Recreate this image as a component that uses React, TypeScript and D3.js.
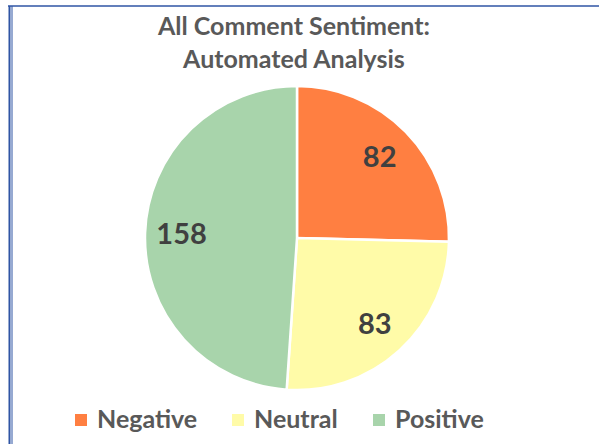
import React from "react";
import * as d3 from "d3";

const categories = ["Negative", "Neutral", "Positive"];
const values = [82, 83, 158];
const colors = ["#ff7f41", "#fffba8", "#a8d4ab"];
const titleLines = ["All Comment Sentiment:", "Automated Analysis"];

const W = 599;
const H = 444;

export default function App() {
  const cx = 297;
  const cy = 238;
  const r = 152;
  const pie = d3.pie<number>().sort(null).value((d) => d)(values);
  const arc = d3.arc<d3.PieArcDatum<number>>().innerRadius(0).outerRadius(r);
  const labelArc = d3
    .arc<d3.PieArcDatum<number>>()
    .innerRadius(r * 0.76)
    .outerRadius(r * 0.76);
  const font = "Lato, 'Open Sans', sans-serif";
  const legendX = [75, 232, 373];
  return (
    <svg
      width={W}
      height={H}
      style={{ position: "absolute", left: 0, top: 0, background: "#fff" }}
    >
      <line x1={8} x2={W} y1={6} y2={6} stroke="#2f55a4" strokeWidth={1.5} />
      <line x1={9.5} x2={9.5} y1={6} y2={H} stroke="#2f55a4" strokeWidth={2} />
      <line x1={12} x2={12} y1={6} y2={H} stroke="#2f55a4" strokeWidth={1} />
      {titleLines.map((t, i) => (
        <text
          key={t}
          x={294}
          y={35 + i * 33}
          textAnchor="middle"
          fontFamily={font}
          fontWeight={700}
          fontSize={25}
          fill="#595959"
        >
          {t}
        </text>
      ))}
      <g transform={`translate(${cx},${cy})`}>
        {pie.map((p, i) => (
          <path
            key={i}
            d={arc(p) || ""}
            fill={colors[i]}
            stroke="#fff"
            strokeWidth={2.5}
          />
        ))}
        {pie.map((p, i) => {
          const [x, y] = labelArc.centroid(p);
          return (
            <text
              key={"l" + i}
              x={x}
              y={y}
              dy="0.35em"
              textAnchor="middle"
              fontFamily={font}
              fontWeight={700}
              fontSize={29}
              fill="#404040"
            >
              {values[i]}
            </text>
          );
        })}
      </g>
      {categories.map((c, i) => (
        <g key={c}>
          <rect
            x={legendX[i]}
            y={414}
            width={12}
            height={12}
            fill={colors[i]}
          />
          <text
            x={legendX[i] + 22}
            y={428}
            fontFamily={font}
            fontWeight={700}
            fontSize={25}
            fill="#595959"
          >
            {c}
          </text>
        </g>
      ))}
    </svg>
  );
}
